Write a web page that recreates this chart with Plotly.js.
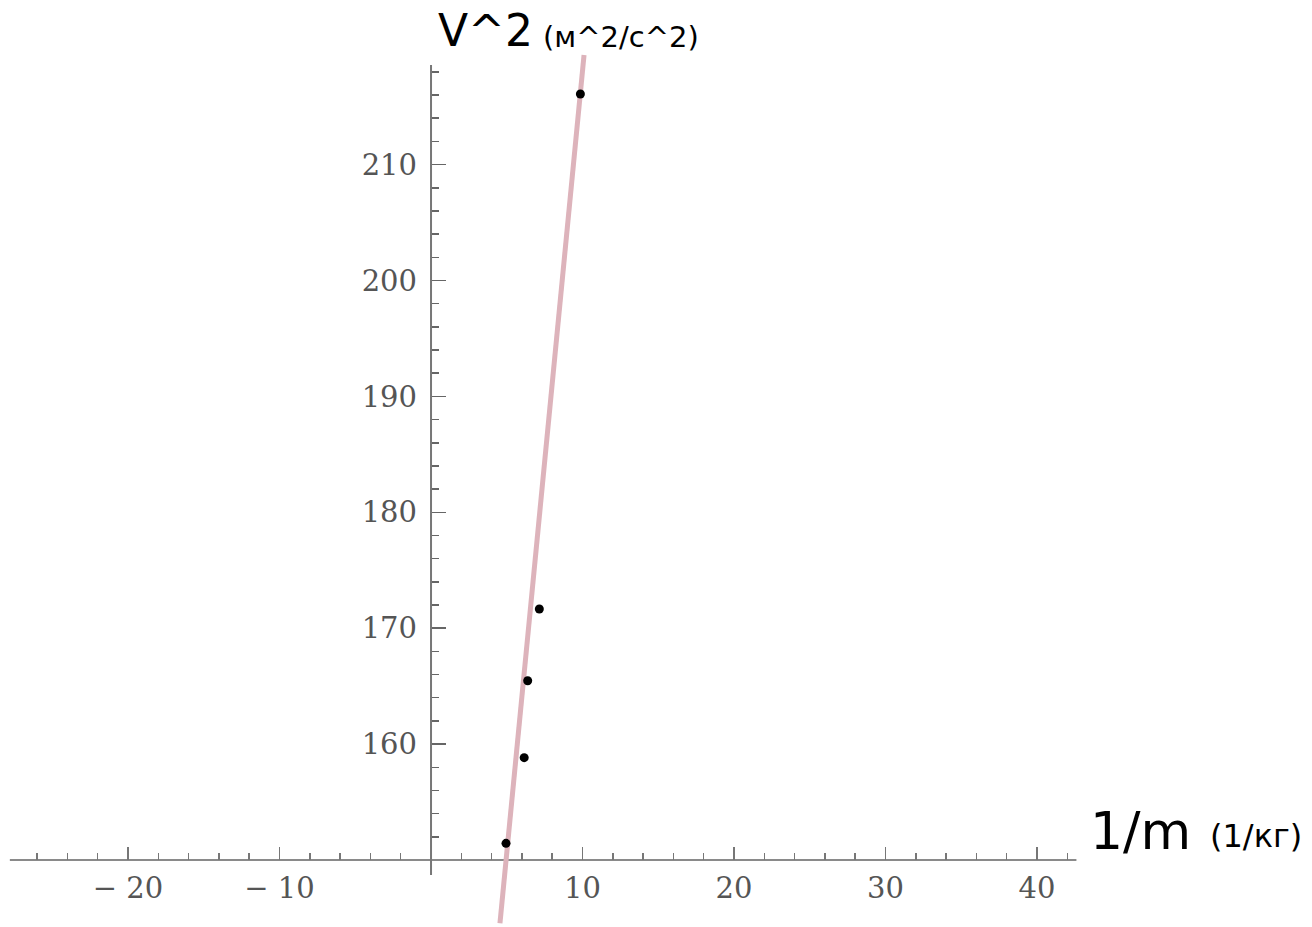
<!DOCTYPE html>
<html>
<head>
<meta charset="utf-8">
<script src="https://cdn.plot.ly/plotly-3.0.1.min.js"></script>
<style>html,body{margin:0;padding:0;background:#fff;}#chart{width:1312px;height:927px;}</style>
</head>
<body>
<div id="chart"></div>
<script>
// Data
const invMass = [4.95, 6.15, 6.38, 7.15, 9.86];          // 1/m (1/кг)
const vSquared = [151.44, 158.83, 165.47, 171.66, 216.09]; // V^2 (м^2/с^2)
const fitInvMass = [4.55, 10.1];                          // fitted line ends
const fitVSquared = [144.54, 219.46];

const xTickVals = [-20, -10, 10, 20, 30, 40];
const xTickText = ["\u2212 20", "\u2212 10", "10", "20", "30", "40"];
const yTickVals = [160, 170, 180, 190, 200, 210];
const yTickText = ["160", "170", "180", "190", "200", "210"];

// view settings
const xRange = [-28.45, 58.15];
const yRange = [144.22, 224.20];
const xAxisExtent = [-27.8, 42.6];
const yAxisExtent = [148.7, 218.6];
const xCross = 0, yCross = 150;

function minorTicks(from, to, step, majors) {
  const out = [];
  for (let v = from; v <= to + 1e-9; v += step) {
    if (!majors.includes(v) && v !== 0) out.push(v);
  }
  return out;
}
const xMinor = minorTicks(-26, 42, 2, xTickVals);
const yMinor = minorTicks(152, 218, 2, yTickVals.concat([150]));

const tickFont = {family: "DejaVu Serif", size: 29, color: "#555"};
const axisColor = "#8a8a8a";

const traces = [
  {
    x: fitInvMass, y: fitVSquared, mode: "lines", type: "scatter",
    line: {color: "#ddb3bb", width: 5}, hoverinfo: "skip", showlegend: false
  },
  {
    x: invMass, y: vSquared, mode: "markers", type: "scatter",
    marker: {color: "#000", size: 9}, showlegend: false
  }
];

const layout = {
  width: 1312, height: 927,
  margin: {l: 0, r: 0, t: 0, b: 0, pad: 0},
  paper_bgcolor: "#fff", plot_bgcolor: "#fff",
  showlegend: false,
  xaxis: {
    range: xRange, anchor: "free",
    position: (yCross - yRange[0]) / (yRange[1] - yRange[0]),
    showgrid: false, zeroline: false, showline: false,
    tickmode: "array", tickvals: xTickVals, ticktext: xTickText,
    ticks: "inside", ticklen: 13, tickwidth: 1.5, tickcolor: "#777",
    ticklabelstandoff: 8,
    tickfont: tickFont,
    minor: {tickmode: "array", tickvals: xMinor, ticks: "inside", ticklen: 7, tickwidth: 1.5, tickcolor: "#777", showgrid: false},
    fixedrange: true
  },
  yaxis: {
    range: yRange, anchor: "free",
    position: (xCross - xRange[0]) / (xRange[1] - xRange[0]),
    showgrid: false, zeroline: false, showline: false,
    tickmode: "array", tickvals: yTickVals, ticktext: yTickText,
    ticks: "inside", ticklen: 14, tickwidth: 1.5, tickcolor: "#666",
    ticklabelstandoff: 14,
    tickfont: tickFont,
    minor: {tickmode: "array", tickvals: yMinor, ticks: "inside", ticklen: 7, tickwidth: 1.5, tickcolor: "#666", showgrid: false},
    fixedrange: true
  },
  shapes: [
    {type: "line", xref: "x", yref: "y", layer: "below",
     x0: xAxisExtent[0], x1: xAxisExtent[1], y0: yCross, y1: yCross,
     line: {color: axisColor, width: 2}},
    {type: "line", xref: "x", yref: "y", layer: "below",
     x0: xCross, x1: xCross, y0: yAxisExtent[0], y1: yAxisExtent[1],
     line: {color: "#777", width: 2}}
  ],
  annotations: [
    {text: "V^2", xref: "paper", yref: "paper", x: 436 / 1312, y: 1 - 31 / 927,
     xanchor: "left", yanchor: "middle", showarrow: false,
     font: {family: "DejaVu Sans", size: 44, color: "#000"}},
    {text: "(м^2/с^2)", xref: "paper", yref: "paper", x: 541 / 1312, y: 1 - 37 / 927,
     xanchor: "left", yanchor: "middle", showarrow: false,
     font: {family: "DejaVu Sans", size: 29, color: "#000"}},
    {text: "1/m", xref: "paper", yref: "paper", x: 1088 / 1312, y: 1 - 831 / 927,
     xanchor: "left", yanchor: "middle", showarrow: false,
     font: {family: "DejaVu Sans", size: 52, color: "#000"}},
    {text: "(1/кг)", xref: "paper", yref: "paper", x: 1208 / 1312, y: 1 - 836 / 927,
     xanchor: "left", yanchor: "middle", showarrow: false,
     font: {family: "DejaVu Sans", size: 32, color: "#000"}}
  ]
};

Plotly.newPlot("chart", traces, layout, {displayModeBar: false, staticPlot: true});
</script>
</body>
</html>
